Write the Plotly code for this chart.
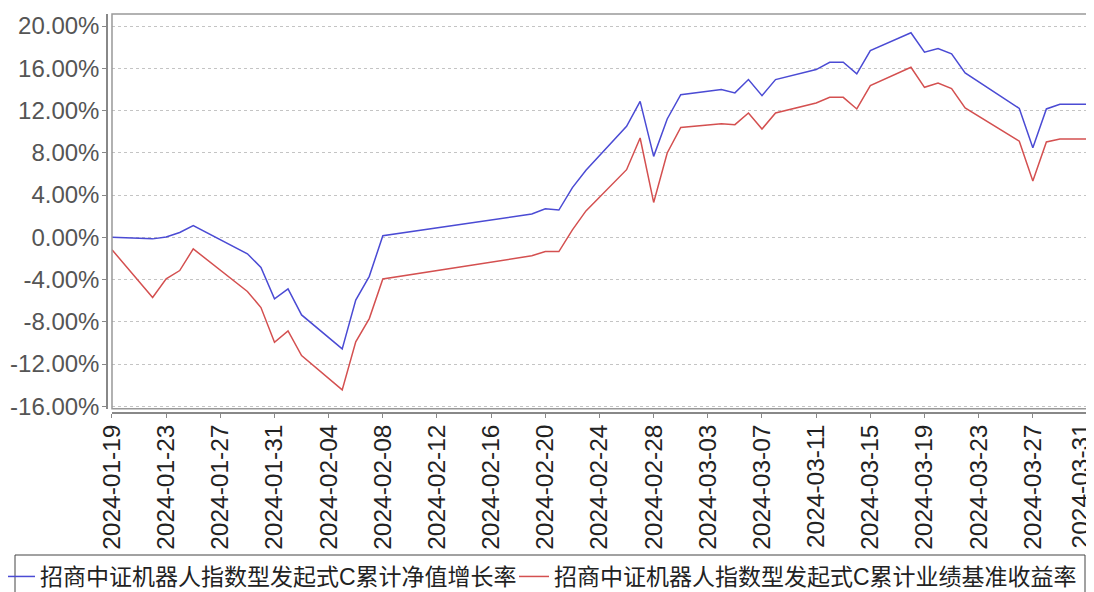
import plotly.graph_objects as go

dates = ['2024-01-19','2024-01-22','2024-01-23','2024-01-24','2024-01-25','2024-01-29','2024-01-30',
         '2024-01-31','2024-02-01','2024-02-02','2024-02-05','2024-02-06','2024-02-07','2024-02-08',
         '2024-02-19','2024-02-20','2024-02-21','2024-02-22','2024-02-23','2024-02-26','2024-02-27',
         '2024-02-28','2024-02-29','2024-03-01','2024-03-04','2024-03-05','2024-03-06','2024-03-07',
         '2024-03-08','2024-03-11','2024-03-12','2024-03-13','2024-03-14','2024-03-15','2024-03-18',
         '2024-03-19','2024-03-20','2024-03-21','2024-03-22','2024-03-26','2024-03-27','2024-03-28',
         '2024-03-29','2024-03-31']

nav_growth = [0.0, -0.15, 0.02, 0.45, 1.1, -1.56, -2.86,
              -5.83, -4.88, -7.35, -10.57, -5.95, -3.7, 0.15,
              2.2, 2.7, 2.58, 4.7, 6.35, 10.5, 12.87,
              7.66, 11.2, 13.5, 13.98, 13.67, 14.93, 13.41,
              14.93, 15.88, 16.57, 16.57, 15.47, 17.68, 19.36,
              17.52, 17.87, 17.36, 15.56, 12.2, 8.48, 12.15,
              12.6, 12.6]

benchmark = [-1.18, -5.7, -3.93, -3.15, -1.1, -5.13, -6.65,
             -9.94, -8.86, -11.2, -14.45, -9.9, -7.7, -3.95,
             -1.75, -1.35, -1.35, 0.7, 2.5, 6.4, 9.4,
             3.3, 7.98, 10.4, 10.76, 10.66, 11.77, 10.25,
             11.77, 12.72, 13.25, 13.25, 12.15, 14.36, 16.1,
             14.2, 14.6, 14.08, 12.25, 9.1, 5.33, 9.02,
             9.3, 9.3]

names = ['招商中证机器人指数型发起式C累计净值增长率', '招商中证机器人指数型发起式C累计业绩基准收益率']
y_ticks = [-16, -12, -8, -4, 0, 4, 8, 12, 16, 20]
y_tick_text = [f'{v:.2f}%' for v in y_ticks]
x_ticks = ['2024-01-19','2024-01-23','2024-01-27','2024-01-31','2024-02-04','2024-02-08',
           '2024-02-12','2024-02-16','2024-02-20','2024-02-24','2024-02-28','2024-03-03',
           '2024-03-07','2024-03-11','2024-03-15','2024-03-19','2024-03-23','2024-03-27',
           '2024-03-31']

FONT = 'Liberation Sans, Arial, Noto Sans CJK SC, sans-serif'

# the page body has an 8px default margin, so the figure is drawn 8px smaller
W, H = 1086, 584
ML, MR, MT, MB = 99, 7, 6, 179
PW, PH = W - ML - MR, H - MT - MB


def px_x(v):
    return (v - ML) / PW


def px_y(v):
    return (PH + MT - v) / PH


fig = go.Figure()
fig.add_trace(go.Scatter(x=dates, y=nav_growth, mode='lines', name=names[0],
                         line=dict(color='#4b4bd4', width=1.5), legend='legend'))
fig.add_trace(go.Scatter(x=dates, y=benchmark, mode='lines', name=names[1],
                         line=dict(color='#d45050', width=1.5), legend='legend2'))

leg_common = dict(orientation='h', xanchor='left', yanchor='top', borderwidth=0,
                  bgcolor='rgba(0,0,0,0)', font=dict(size=23, color='#222'), itemwidth=30)

# the last tick sits on the window edge: its tick mark stays on the axis,
# its label is nudged a few px left so that it stays fully visible
fig.update_layout(
    width=W, height=H,
    margin=dict(l=ML, r=MR, t=MT, b=MB, autoexpand=False),
    paper_bgcolor='white', plot_bgcolor='white',
    font=dict(family=FONT, size=22, color='#222'),
    showlegend=True,
    legend=dict(x=px_x(-8), y=px_y(547), **leg_common),
    legend2=dict(x=px_x(506), y=px_y(547), **leg_common),
    xaxis=dict(type='date', domain=[0.0051, 1], anchor='free', position=0,
               range=['2024-01-19', '2024-03-31'],
               tickvals=x_ticks, ticktext=x_ticks[:-1] + [''], ticklabeloverflow='allow',
               tickangle=-90, showgrid=False, zeroline=False,
               showline=True, linecolor='#888', linewidth=1.5,
               ticks='outside', ticklen=4, tickcolor='#888', ticklabelstandoff=-3,
               tickfont=dict(size=24.5, color='#222')),
    yaxis=dict(domain=[0.0105, 1], anchor='free', position=0,
               range=[-16.24, 21.14], tickvals=y_ticks, ticktext=y_tick_text,
               showgrid=True, gridcolor='#c4c4c4', griddash='3px,3px', gridwidth=1,
               zeroline=False, showline=True, linecolor='#888', linewidth=1.5,
               ticks='outside', ticklen=4, tickcolor='#888', ticklabelstandoff=-2,
               tickfont=dict(size=24, color='#555')),
    annotations=[dict(x=x_ticks[-1], xref='x', y=px_y(413), yref='paper',
                      text=x_ticks[-1], textangle=-90, showarrow=False,
                      xanchor='center', yanchor='top', xshift=-6,
                      font=dict(size=24.5, color='#222'))],
    shapes=[
        dict(type='rect', xref='x domain', yref='y domain', x0=0, x1=1, y0=0, y1=1,
             line=dict(color='#999', width=1.5), fillcolor='rgba(0,0,0,0)', layer='above'),
        dict(type='rect', xref='paper', yref='paper', x0=px_x(7), x1=px_x(1077),
             y0=px_y(547), y1=px_y(600),
             line=dict(color='#444', width=1), fillcolor='rgba(0,0,0,0)', layer='above'),
    ],
)

fig.write_html('out.html')
